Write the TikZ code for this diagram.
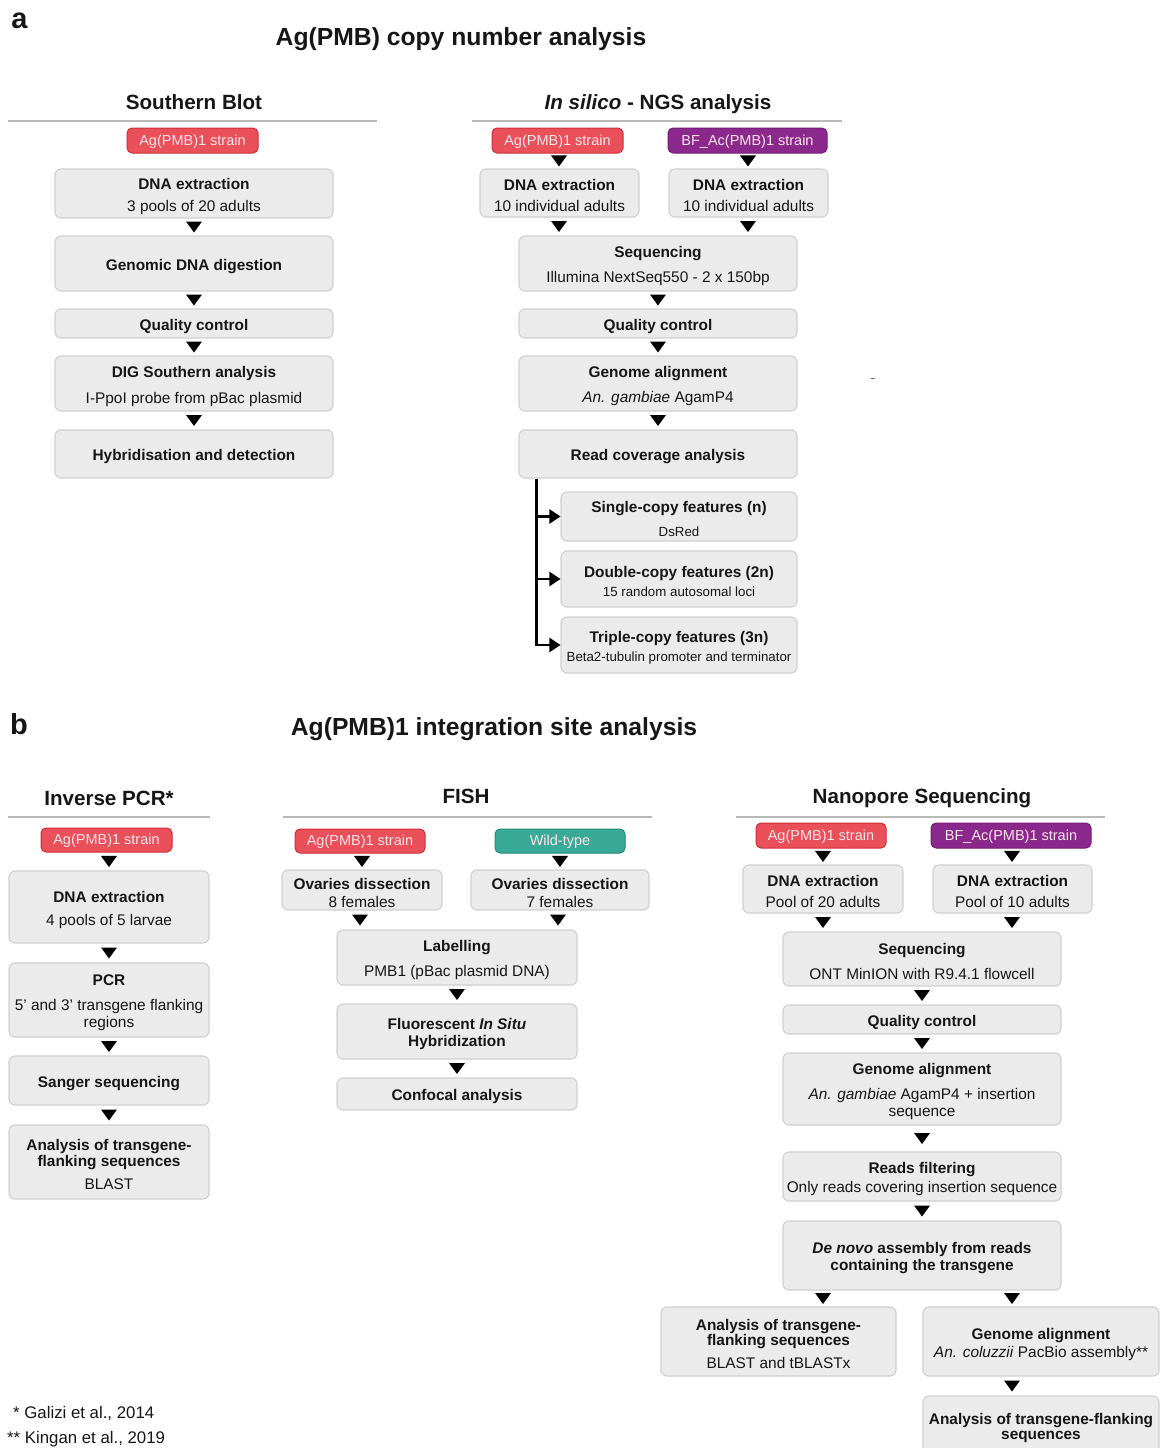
\documentclass[tikz,border=0pt]{standalone}
\usepackage{fontspec}
\setmainfont{Liberation Sans}
\usetikzlibrary{calc,arrows.meta}
\definecolor{boxfill}{RGB}{235,235,235}
\definecolor{boxline}{RGB}{208,208,208}
\definecolor{redfill}{RGB}{233,80,90}
\definecolor{redline}{RGB}{208,45,55}
\definecolor{purfill}{RGB}{139,40,139}
\definecolor{purline}{RGB}{118,28,118}
\definecolor{tealfill}{RGB}{58,170,152}
\definecolor{tealline}{RGB}{35,138,120}
\definecolor{pilltext}{RGB}{252,230,234}
\definecolor{rulecol}{RGB}{185,185,185}
\definecolor{txt}{RGB}{22,22,22}
\newcommand\bxstrut{\rule{0pt}{17pt}}
\newcommand\bx[7][box]{\node[#1, minimum width={(#5-#3)*1pt}, minimum height={(#6-#4)*1pt}] (#2) at ({(#3+#5)/2},{(#4+#6)/2}) {\bxstrut#7};}
\newcommand\connx[3]{\coordinate (cxq) at (#3,0);
  \path (cxq |- #1.south) -- (cxq |- #2.north) coordinate[midway] (cmq);
  \fill[black] ($(cmq)+(-8,-5.5)$) -- ($(cmq)+(8,-5.5)$) -- ($(cmq)+(0,5.5)$) -- cycle;}
\newcommand\sm[1]{{\fontsize{13.3}{15}\selectfont #1}}
\begin{document}
\begin{tikzpicture}[x=1pt,y=-1pt,
  box/.style={draw=boxline, fill=boxfill, rounded corners=6pt, line width=1.1pt, inner sep=0pt, align=center, text=txt, font=\fontsize{15.4}{17}\selectfont},
  pill/.style={rounded corners=5pt, line width=1pt, inner sep=0pt, text=pilltext, font=\fontsize{14.5}{17}\selectfont, execute at begin node={\def\bxstrut{\rule{0pt}{12.5pt}}}},
  redp/.style={pill, fill=redfill, draw=redline},
  purp/.style={pill, fill=purfill, draw=purline},
  tealp/.style={pill, fill=tealfill, draw=tealline},
  sectitle/.style={anchor=base, font=\bfseries\fontsize{20.6}{24}\selectfont, text=txt, inner sep=0pt},
  maintitle/.style={anchor=base, font=\bfseries\fontsize{24.7}{28}\selectfont, text=txt, inner sep=0pt},
  panel/.style={font=\bfseries\fontsize{29}{32}\selectfont, text=txt, inner sep=0pt},
  secrule/.style={draw=rulecol, line width=2pt},
  branch/.style={line width=2.2pt, black, -{Triangle[length=11pt,width=14pt]}},
  foot/.style={anchor=base west, font=\fontsize{16.8}{19}\selectfont, text=txt, inner sep=0pt}]
\useasboundingbox (0,0) rectangle (1159,1448);
\fill[white] (0,0) rectangle (1159,1448);

% ================= panel a =================
\node[panel] (pa) at (19.5,20.5) {a};
\node[maintitle] (ta) at (461,45.5) {Ag(PMB) copy number analysis};

% Southern blot
\node[sectitle] (tsb) at (194,109.5) {Southern Blot};
\draw[secrule] (8,121) -- (377,121);
\bx[redp]{sbp}{127}{128}{258}{153}{Ag(PMB)1 strain}
\bx{sb1}{55}{169}{333}{218}{\textbf{DNA extraction}\\[5pt]3 pools of 20 adults}
\bx{sb2}{55}{236}{333}{291}{\textbf{Genomic DNA digestion}}
\bx{sb3}{55}{309}{333}{338}{\textbf{Quality control}}
\bx{sb4}{55}{356}{333}{411}{\textbf{DIG Southern analysis}\\[9pt]I-PpoI probe from pBac plasmid}
\bx{sb5}{55}{430}{333}{478}{\textbf{Hybridisation and detection}}
\connx{sb1}{sb2}{194}
\connx{sb2}{sb3}{194}
\connx{sb3}{sb4}{194}
\connx{sb4}{sb5}{194}

% In silico NGS
\node[sectitle] (tng) at (658,109.5) {\textit{In silico} - NGS analysis};
\draw[secrule] (472,121) -- (842,121);
\bx[redp]{ngpa}{492}{128}{623}{153}{Ag(PMB)1 strain}
\bx[purp]{ngpb}{668}{128}{827}{153}{BF\_Ac(PMB)1 strain}
\bx{ng1a}{480}{169}{639}{217}{\textbf{DNA extraction}\\[4pt]10 individual adults}
\bx{ng1b}{669}{169}{828}{217}{\textbf{DNA extraction}\\[4pt]10 individual adults}
\bx{ng2}{519}{236}{797}{291}{\textbf{Sequencing}\\[8pt]Illumina NextSeq550 - 2 x 150bp}
\bx{ng3}{519}{309}{797}{338}{\textbf{Quality control}}
\bx{ng4}{519}{356}{797}{411}{\textbf{Genome alignment}\\[8pt]\textit{An. gambiae} AgamP4}
\bx{ng5}{519}{430}{797}{478}{\textbf{Read coverage analysis}}
\bx{sc}{561}{492}{797}{541}{\textbf{Single-copy features (n)}\\[7pt]\sm{DsRed}}
\bx{dc}{561}{551}{797}{607}{\textbf{Double-copy features (2n)}\\[2pt]\sm{15 random autosomal loci}}
\bx{tc}{561}{617}{797}{673}{\textbf{Triple-copy features (3n)}\\[2pt]\sm{Beta2-tubulin promoter and terminator}}
\connx{ngpa}{ng1a}{559}
\connx{ngpb}{ng1b}{748}
\connx{ng1a}{ng2}{559}
\connx{ng1b}{ng2}{748}
\connx{ng2}{ng3}{658}
\connx{ng3}{ng4}{658}
\connx{ng4}{ng5}{658}
\draw[branch] ([xshift=18pt]ng5.south west) |- (sc.west);
\draw[branch] ([xshift=18pt]ng5.south west) |- (dc.west);
\draw[branch] ([xshift=18pt]ng5.south west) |- (tc.west);
\draw[rulecol!60!black, line width=0.8pt] (871,378.5) -- (875,378.5);

% ================= panel b =================
\node[panel] (pb) at (19,724) {b};
\node[maintitle] (tb) at (494,735) {Ag(PMB)1 integration site analysis};

% Inverse PCR
\node[sectitle] (tip) at (109,805) {Inverse PCR*};
\draw[secrule] (8,817) -- (210,817);
\bx[redp]{ipp}{41}{828}{172}{852}{Ag(PMB)1 strain}
\bx{ip1}{9}{871}{209}{943}{\textbf{DNA extraction}\\[6pt]4 pools of 5 larvae}
\bx{ip2}{9}{963}{209}{1037}{\textbf{PCR}\\[8pt]5' and 3' transgene flanking\\regions}
\bx{ip3}{9}{1056}{209}{1105}{\textbf{Sanger sequencing}}
\bx{ip4}{9}{1125}{209}{1199}{\textbf{Analysis of transgene-}\\[-1pt]\textbf{flanking sequences}\\[6pt]BLAST}
\connx{ipp}{ip1}{109}
\connx{ip1}{ip2}{109}
\connx{ip2}{ip3}{109}
\connx{ip3}{ip4}{109}

% FISH
\node[sectitle] (tf) at (466,803) {FISH};
\draw[secrule] (283,817) -- (652,817);
\bx[redp]{fpa}{295}{829}{425}{853}{Ag(PMB)1 strain}
\bx[tealp]{fpb}{495}{829}{625}{853}{Wild-type}
\bx{f1a}{282}{870}{442}{910}{\textbf{Ovaries dissection}\\[1pt]8 females}
\bx{f1b}{471}{870}{649}{910}{\textbf{Ovaries dissection}\\[1pt]7 females}
\bx{f2}{337}{930}{577}{985}{\textbf{Labelling}\\[8pt]PMB1 (pBac plasmid DNA)}
\bx{f3}{337}{1004}{577}{1059}{\textbf{Fluorescent \textit{In Situ}}\\\textbf{Hybridization}}
\bx{f4}{337}{1078}{577}{1110}{\textbf{Confocal analysis}}
\connx{fpa}{f1a}{362}
\connx{fpb}{f1b}{560}
\connx{f1a}{f2}{360}
\connx{f1b}{f2}{558}
\connx{f2}{f3}{457}
\connx{f3}{f4}{457}

% Nanopore
\node[sectitle] (tn) at (922,803) {Nanopore Sequencing};
\draw[secrule] (736,817) -- (1105,817);
\bx[redp]{npa}{756}{823}{886}{848}{Ag(PMB)1 strain}
\bx[purp]{npb}{931}{823}{1091}{848}{BF\_Ac(PMB)1 strain}
\bx{n1a}{743}{865}{903}{913}{\textbf{DNA extraction}\\[4pt]Pool of 20 adults}
\bx{n1b}{933}{865}{1092}{913}{\textbf{DNA extraction}\\[4pt]Pool of 10 adults}
\bx{n2}{783}{932}{1061}{986}{\textbf{Sequencing}\\[8pt]ONT MinION with R9.4.1 flowcell}
\bx{n3}{783}{1005}{1061}{1034}{\textbf{Quality control}}
\bx{n4}{783}{1053}{1061}{1125}{\textbf{Genome alignment}\\[8pt]\textit{An. gambiae} AgamP4 + insertion\\sequence}
\bx{n5}{783}{1152}{1061}{1201}{\textbf{Reads filtering}\\[2pt]Only reads covering insertion sequence}
\bx{n6}{783}{1221}{1061}{1290}{\textbf{\textit{De novo} assembly from reads}\\\textbf{containing the transgene}}
\bx{n7a}{661}{1307}{896}{1376}{\textbf{Analysis of transgene-}\\[-2pt]\textbf{flanking sequences}\\[6pt]BLAST and tBLASTx}
\bx{n7b}{923}{1307}{1159}{1376}{\textbf{Genome alignment}\\[1pt]\textit{An. coluzzii} PacBio assembly**}
\bx{n8}{923}{1396}{1159}{1455}{\textbf{Analysis of transgene-flanking}\\[-2pt]\textbf{sequences}}
\connx{npa}{n1a}{823}
\connx{npb}{n1b}{1012}
\connx{n1a}{n2}{823}
\connx{n1b}{n2}{1012}
\connx{n2}{n3}{922}
\connx{n3}{n4}{922}
\connx{n4}{n5}{922}
\connx{n5}{n6}{922}
\connx{n6}{n7a}{823}
\connx{n6}{n7b}{1012}
\connx{n7b}{n8}{1012}

% footnotes
\node[foot] (fn1) at (13,1418) {* Galizi et al., 2014};
\node[foot] (fn2) at (7,1443) {** Kingan et al., 2019};
\end{tikzpicture}
\end{document}
